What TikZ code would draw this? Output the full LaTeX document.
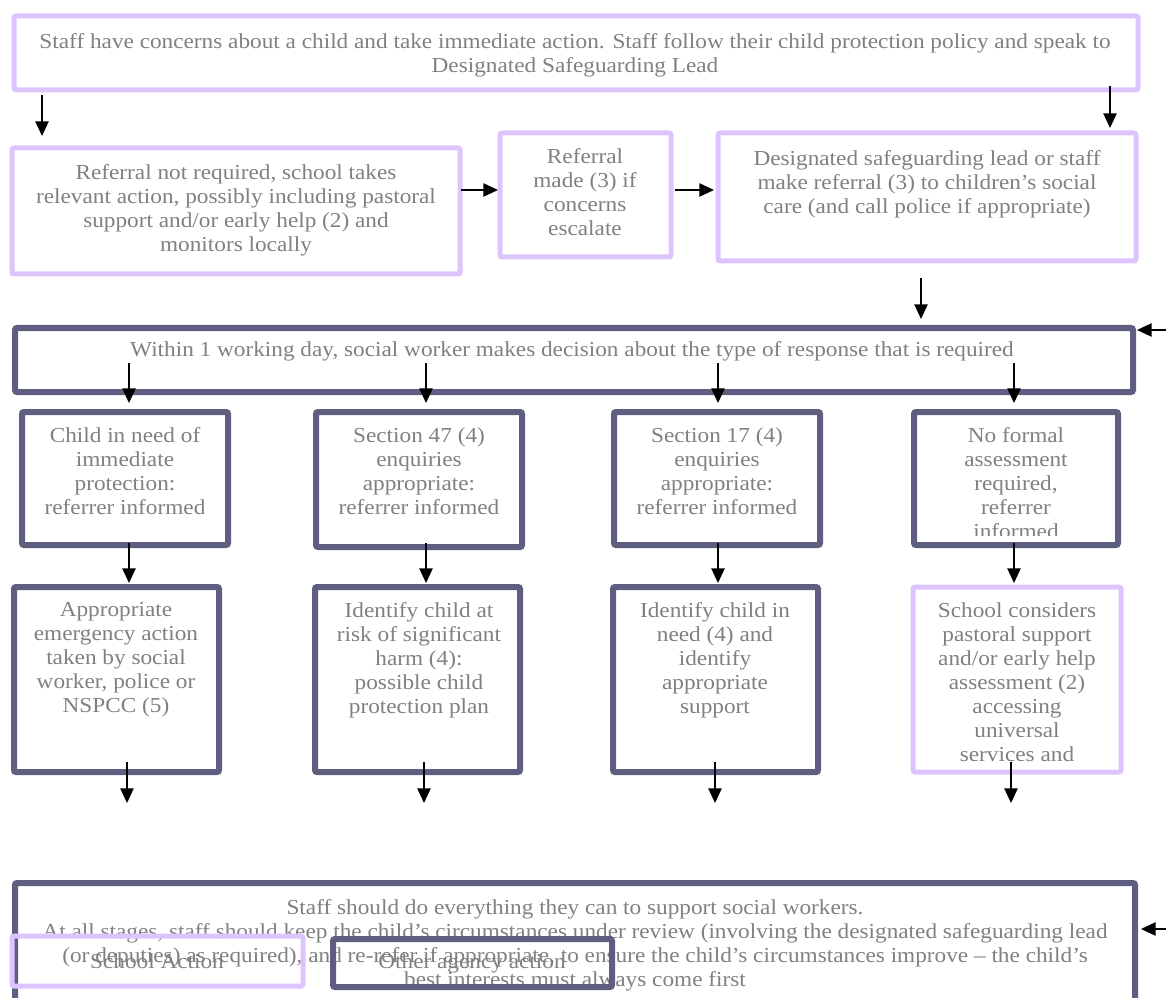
\documentclass[tikz,border=0pt]{standalone}
\usepackage{fontspec}
\setmainfont[FakeStretch=1.09]{Liberation Serif}
\usepackage{tikz}
\usetikzlibrary{arrows.meta, positioning, fit}
\definecolor{lilac}{RGB}{222, 196, 255}
\definecolor{slate}{RGB}{94, 94, 128}
\definecolor{inkgray}{RGB}{128, 128, 128}
\tikzset{
  font=\fontsize{16}{18}\selectfont,
  baseblock/.style={
    rectangle, rounded corners=1.5pt, inner sep=0pt, fill=none
  },
  schoolblock/.style={baseblock, draw=lilac, line width=3.75pt},
  agencyblock/.style={baseblock, draw=slate, line width=4.5pt},
  boxtext/.style={text=inkgray, align=center, inner sep=0pt, anchor=north},
  flowline/.style={
    draw=black, -{Triangle[length=11pt, width=10pt]}, line width=1.1pt
  }
}
\begin{document}
\begin{tikzpicture}[x=0.75pt, y=-0.75pt]
  \useasboundingbox (0,0) rectangle (1166,998);

  % Concern raised
  \node[schoolblock, fit={(14,16) (1138,90)}] (concern) {};
  \node[boxtext] (concern_txt) at (575,33) {Staff have concerns about a child and take immediate action. Staff follow their child protection policy and speak to\\Designated Safeguarding Lead};

  % First response
  \node[schoolblock, fit={(12,148) (460,274)}] (noref) {};
  \node[boxtext] (noref_txt) at (236,164) {Referral not required, school takes\\relevant action, possibly including pastoral\\support and/or early help (2) and\\monitors locally};

  \node[schoolblock, fit={(500,133) (671,257)}] (escalate) {};
  \node[boxtext] (escalate_txt) at (585,148) {Referral\\made (3) if\\concerns\\escalate};

  \node[schoolblock, fit={(718,133) (1136,261)}] (referral) {};
  \node[boxtext] (referral_txt) at (927,150) {Designated safeguarding lead or staff\\make referral (3) to children’s social\\care (and call police if appropriate)};

  % Social worker decision
  \node[agencyblock, fit={(15,328) (1133,392)}] (decision) {};
  \node[boxtext] (decision_txt) at (572,341) {Within 1 working day, social worker makes decision about the type of response that is required};

  % Types of response
  \node[agencyblock, fit={(22,412) (228,545)}] (urgent) {};
  \node[boxtext] (urgent_txt) at (125,427) {Child in need of\\immediate\\protection:\\referrer informed};

  \node[agencyblock, fit={(316,412) (522,547)}] (sec47) {};
  \node[boxtext] (sec47_txt) at (419,427) {Section 47 (4)\\enquiries\\appropriate:\\referrer informed};

  \node[agencyblock, fit={(614,412) (820,545)}] (sec17) {};
  \node[boxtext] (sec17_txt) at (717,427) {Section 17 (4)\\enquiries\\appropriate:\\referrer informed};

  \node[agencyblock, fit={(914,412) (1118,545)}] (noassess) {};
  \begin{scope}
    \clip (900,400) rectangle (1130,535);
    \node[boxtext] (noassess_txt) at (1016,427) {No formal\\assessment\\required,\\referrer\\informed};
  \end{scope}

  % Outcomes
  \node[agencyblock, fit={(14,587) (219,772)}] (emergency) {};
  \node[boxtext] (emergency_txt) at (116,602) {Appropriate\\emergency action\\taken by social\\worker, police or\\NSPCC (5)};

  \node[agencyblock, fit={(315,587) (520,772)}] (harm) {};
  \node[boxtext] (harm_txt) at (419,602) {Identify child at\\risk of significant\\harm (4):\\possible child\\protection plan};

  \node[agencyblock, fit={(613,587) (818,772)}] (inneed) {};
  \node[boxtext] (inneed_txt) at (715,602) {Identify child in\\need (4) and\\identify\\appropriate\\support};

  \node[schoolblock, fit={(913,587) (1121,772)}] (pastoral) {};
  \node[boxtext] (pastoral_txt) at (1017,602) {School considers\\pastoral support\\and/or early help\\assessment (2)\\accessing\\universal\\services and};

  % Ongoing review
  \node[agencyblock, fit={(15,883) (1135,1006)}] (review) {};
  \node[boxtext] (review_txt) at (575,899) {Staff should do everything they can to support social workers.\\At all stages, staff should keep the child’s circumstances under review (involving the designated safeguarding lead\\(or deputies) as required), and re-refer if appropriate, to ensure the child’s circumstances improve – the child’s\\best interests must always come first};

  % Key
  \node[schoolblock, fit={(12,936) (303,986)}] (key_school) {};
  \node[boxtext, anchor=center] (key_school_txt) at (157,961) {School Action};
  \node[agencyblock, fit={(333,939) (612,987)}] (key_agency) {};
  \node[boxtext, anchor=center] (key_agency_txt) at (472,963) {Other agency action};

  % Connections
  \coordinate (c1s) at (42,95);    \coordinate (c1e) at (42,136);
  \coordinate (c2s) at (1110,86);  \coordinate (c2e) at (1110,128);
  \coordinate (c3s) at (461,190);  \coordinate (c3e) at (498,190);
  \coordinate (c4s) at (675,190);  \coordinate (c4e) at (714,190);
  \coordinate (c5s) at (921,278);  \coordinate (c5e) at (921,319);
  \coordinate (c6s) at (1166,330); \coordinate (c6e) at (1137,330);
  \coordinate (c7s) at (1166,929); \coordinate (c7e) at (1141,929);
  \foreach \n in {1,...,7}
    \draw[flowline] (c\n s) -- (c\n e);

  \foreach \n/\x in {a/129,b/426,c/718,d/1014} {
    \coordinate (d\n s) at (\x,363); \coordinate (d\n e) at (\x,403);
    \draw[flowline] (d\n s) -- (d\n e);
    \coordinate (m\n s) at (\x,543); \coordinate (m\n e) at (\x,583);
    \draw[flowline] (m\n s) -- (m\n e);
  }
  \foreach \n/\x in {a/127,b/424,c/715,d/1011} {
    \coordinate (l\n s) at (\x,762); \coordinate (l\n e) at (\x,803);
    \draw[flowline] (l\n s) -- (l\n e);
  }

\end{tikzpicture}
\end{document}
